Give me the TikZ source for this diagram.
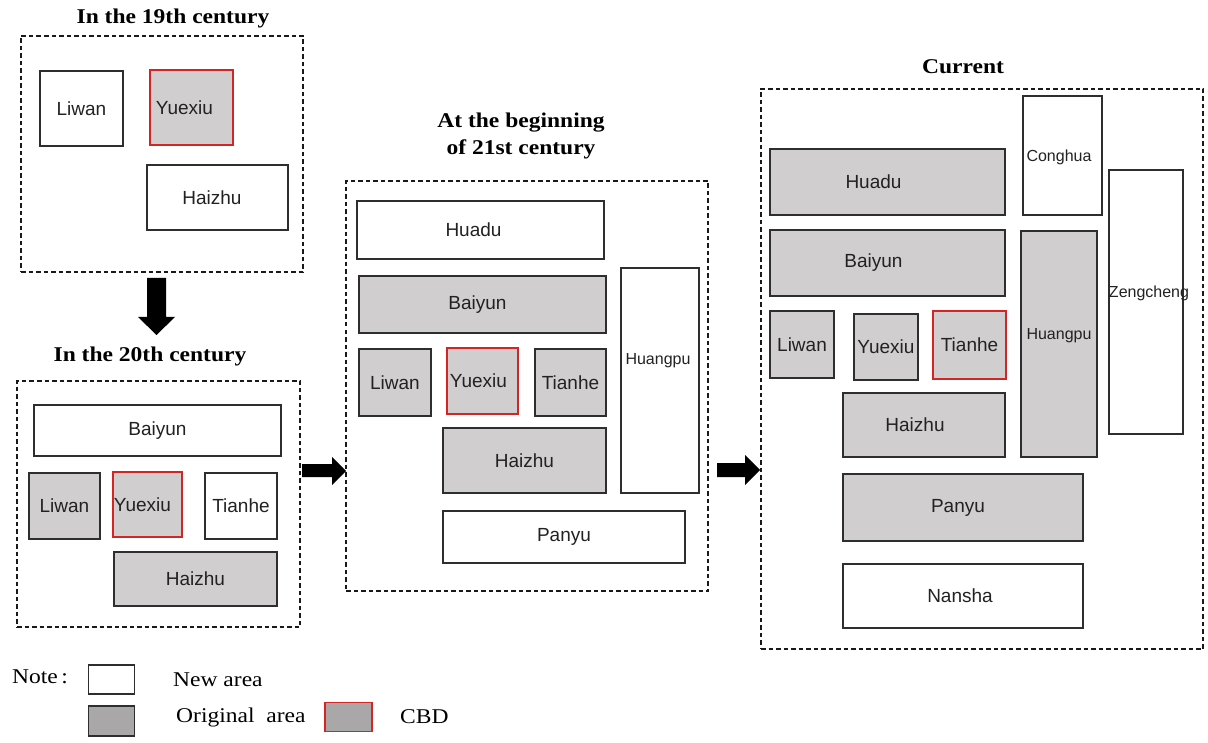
\documentclass[tikz,border=0pt]{standalone}
\usepackage{fontspec}
\setmainfont{Liberation Serif}
\newfontfamily\labfont{Liberation Sans}
\newfontfamily\ttlfont[FakeStretch=1.12]{Liberation Serif}
\definecolor{boxline}{HTML}{2E2E2E}
\definecolor{origfill}{HTML}{D0CECE}
\definecolor{legfill}{HTML}{A9A7A7}
\definecolor{cbdred}{HTML}{D42424}
\definecolor{labtext}{HTML}{222222}
\tikzset{
  frame/.style={draw=black!90, dashed, dash pattern=on 4.5pt off 3pt, line width=1.2pt, minimum width=#1},
  area/.style={draw=boxline, line width=1.4pt, inner sep=0pt, text=labtext,
     font=\labfont\fontsize{19}{22}\selectfont},
  newarea/.style={area, fill=white},
  origarea/.style={area, fill=origfill},
  cbdarea/.style={area, fill=origfill, draw=cbdred, line width=1.7pt},
  smalllab/.style={text=labtext, inner sep=0pt, font=\labfont\fontsize{16}{19}\selectfont},
  ttl/.style={font=\ttlfont\bfseries\fontsize{21}{27}\selectfont, align=center, inner sep=0pt},
  legtext/.style={font=\ttlfont\fontsize{21}{25}\selectfont, anchor=west, inner sep=0pt},
  sz/.style n args={2}{minimum width=#1pt, minimum height=#2pt},
  blockarrow/.style={fill=black}
}
\begin{document}
\begin{tikzpicture}[x=1pt,y=-1pt]
\useasboundingbox (0,0) rectangle (1208,743);
% frames
\node[frame=282pt, minimum height=236pt] (f1) at (162,154) {};
\node[frame=283pt, minimum height=246pt] (f2) at (158.5,504) {};
\node[frame=362pt, minimum height=410pt] (f3) at (527,386) {};
\node[frame=442pt, minimum height=560pt] (f4) at (982,369) {};
% titles
\node[ttl] (t1) at (173,18) {In the 19th century};
\node[ttl] (t2) at (150,356) {In the 20th century};
\node[ttl] (t3) at (521,136) {At the beginning\\of 21st century};
\node[ttl] (t4) at (963,67) {Current};
% panel 1
\node[newarea, sz={83}{75}] (a1liwan) at (81.5,108.5) {Liwan};
\node[cbdarea, sz={83}{75}] (a1yuexiu) at (191.5,107.5) {\hspace*{-14pt}Yuexiu};
\node[newarea, sz={141}{65}] (a1haizhu) at (217.5,197.5) {\hspace*{-11pt}Haizhu};
% panel 2
\node[newarea, sz={247}{51}] (a2baiyun) at (157.5,430.5) {Baiyun};
\node[origarea, sz={71}{66}] (a2liwan) at (64.5,506) {Liwan};
\node[cbdarea, sz={69}{65}] (a2yuexiu) at (147.5,504.5) {\hspace*{-10pt}Yuexiu};
\node[newarea, sz={72}{66}] (a2tianhe) at (241,506) {\raisebox{-4pt}{Tianhe}};
\node[origarea, sz={163}{54}] (a2haizhu) at (195.5,579) {Haizhu};
% panel 3
\node[newarea, sz={247}{58}] (a3huadu) at (480.5,230) {\hspace*{-14pt}Huadu};
\node[origarea, sz={247}{57}] (a3baiyun) at (482.5,304.5) {\hspace*{-10pt}Baiyun};
\node[origarea, sz={72}{67}] (a3liwan) at (395,382.5) {Liwan};
\node[cbdarea, sz={71}{66}] (a3yuexiu) at (482.5,381) {\hspace*{-8pt}Yuexiu};
\node[origarea, sz={71}{67}] (a3tianhe) at (570.5,382.5) {\raisebox{-2pt}{Tianhe}};
\node[origarea, sz={163}{65}] (a3haizhu) at (524.5,460.5) {Haizhu};
\node[newarea, sz={78}{225}] (a3huangpu) at (660,380.5) {};
\node[smalllab] (a3huangpul) at (658,361) {Huangpu};
\node[newarea, sz={242}{52}] (a3panyu) at (564,537) {Panyu};
% panel 4
\node[newarea, sz={79}{119}] (a4conghua) at (1062.5,155.5) {};
\node[smalllab] (a4conghual) at (1059,157) {Conghua};
\node[newarea, sz={74}{264}] (a4zengcheng) at (1146,302) {};
\node[smalllab] (a4zengchengl) at (1149,293) {Zengcheng};
\node[origarea, sz={235}{66}] (a4huadu) at (887.5,182) {\hspace*{-28pt}Huadu};
\node[origarea, sz={235}{66}] (a4baiyun) at (887.5,263) {\hspace*{-28pt}Baiyun};
\node[origarea, sz={64}{67}] (a4liwan) at (802,344.5) {Liwan};
\node[origarea, sz={64}{66}] (a4yuexiu) at (886,347) {Yuexiu};
\node[cbdarea, sz={73}{68}] (a4tianhe) at (969.5,345) {Tianhe};
\node[origarea, sz={76}{226}] (a4huangpu) at (1059,344) {};
\node[smalllab] (a4huangpul) at (1059,336) {Huangpu};
\node[origarea, sz={162}{64}] (a4haizhu) at (924,425) {\hspace*{-18pt}Haizhu};
\node[origarea, sz={240}{67}] (a4panyu) at (963,507.5) {\hspace*{-10pt}Panyu};
\node[newarea, sz={240}{64}] (a4nansha) at (963,596) {\hspace*{-6pt}Nansha};
% block arrows
\fill[blockarrow] (147,278) -- (166,278) -- (166,317) -- (175,317) -- (156.5,335) -- (138,317) -- (147,317) -- cycle;
\fill[blockarrow] (302,464) -- (332,464) -- (332,457) -- (346,471) -- (332,485) -- (332,477) -- (302,477) -- cycle;
\fill[blockarrow] (717,463) -- (745,463) -- (745,455) -- (760,470) -- (745,485) -- (745,477) -- (717,477) -- cycle;
% legend
\node[legtext] (note) at (12,677) {Note\,:};
\node[draw=boxline, line width=1.2pt, fill=white, sz={46}{29}] (lnew) at (111.5,679.5) {};
\node[legtext] (lnewt) at (173,680) {New area};
\node[draw=boxline, line width=1.2pt, fill=legfill, sz={46}{30}] (lorig) at (111.5,721) {};
\node[legtext] (lorigt) at (176,717) {Original\ \ area};
\node[draw=cbdred, line width=1.6pt, fill=legfill, sz={47}{29}] (lcbd) at (348.5,717) {};
\node[legtext] (lcbdt) at (400,717) {CBD};
\end{tikzpicture}
\end{document}
